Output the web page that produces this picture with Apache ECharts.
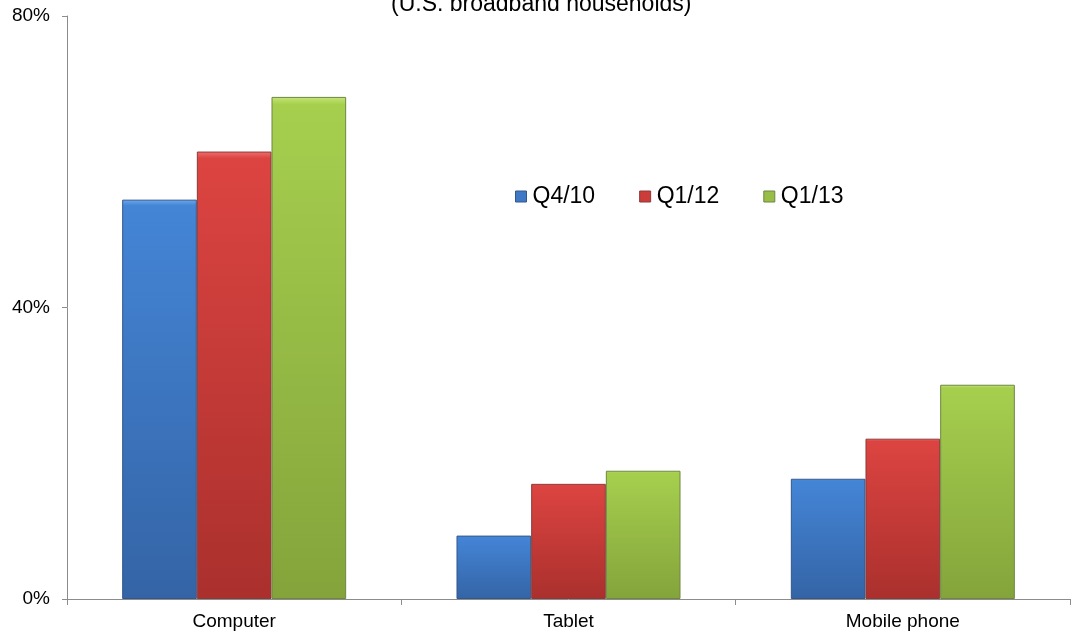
<!DOCTYPE html>
<html>
<head>
<meta charset="utf-8">
<script src="https://cdn.jsdelivr.net/npm/echarts@6/dist/echarts.min.js"></script>
<style>
html,body{margin:0;padding:0;background:#fff;}
#chart{width:1073px;height:633px;}
</style>
</head>
<body>
<div id="chart"></div>
<script>
var categories = ['Computer', 'Tablet', 'Mobile phone'];
var seriesNames = ['Q4/10', 'Q1/12', 'Q1/13'];
var q4_10 = [54.8, 8.7, 16.5];
var q1_12 = [61.4, 15.8, 22.0];
var q1_13 = [68.9, 17.6, 29.4];
var yTicks = [0, 40, 80];
var titleText = '(U.S. broadband households)';

var FONT = '"Liberation Sans", Arial, sans-serif';

function grad(top, mid, bottom) {
  return new echarts.graphic.LinearGradient(0, 0, 0, 1, [
    {offset: 0, color: top},
    {offset: 0.015, color: mid},
    {offset: 1, color: bottom}
  ]);
}
var palettes = [
  {top: '#6aa8f0', mid: '#4485d6', bottom: '#3464a6', border: '#34578a', legend: '#3f78c4'},
  {top: '#f07070', mid: '#dc4441', bottom: '#aa302d', border: '#8a3a38', legend: '#cc3c39'},
  {top: '#c4e677', mid: '#a6cf4e', bottom: '#84a43b', border: '#6e8640', legend: '#98be48'}
];
var dataSets = [q4_10, q1_12, q1_13];

var chart = echarts.init(document.getElementById('chart'), null, {renderer: 'canvas'});
var series = dataSets.map(function (d, i) {
  var p = palettes[i];
  return {
    name: seriesNames[i],
    type: 'bar',
    data: d,
    barGap: '0%',
    barCategoryGap: '33%',
    itemStyle: {
      color: grad(p.top, p.mid, p.bottom),
      borderColor: p.border,
      borderWidth: 1
    }
  };
});

chart.setOption({
  animation: false,
  backgroundColor: '#ffffff',
  title: {
    text: titleText,
    left: 386,
    top: -12,
    textStyle: {fontFamily: FONT, fontSize: 23, fontWeight: 'normal', color: '#000'}
  },
  legend: {
    data: seriesNames.map(function (n, i) {
      return {name: n, itemStyle: {color: palettes[i].legend, borderColor: palettes[i].border, borderWidth: 1}};
    }),
    left: 510,
    top: 180,
    itemWidth: 11,
    itemHeight: 11,
    itemGap: 44,
    icon: 'rect',
    textStyle: {fontFamily: FONT, fontSize: 23, color: '#000', padding: [0, 0, 0, 1]}
  },
  grid: {left: 67, right: 3, top: 16, bottom: 34, containLabel: false},
  xAxis: {
    type: 'category',
    data: categories,
    axisLine: {lineStyle: {color: '#8c8c8c', width: 1}},
    axisTick: {show: true, length: 6, lineStyle: {color: '#8c8c8c'}},
    axisLabel: {fontFamily: FONT, fontSize: 19, color: '#000', margin: 13}
  },
  yAxis: {
    type: 'value',
    min: yTicks[0],
    max: yTicks[yTicks.length - 1],
    interval: yTicks[1] - yTicks[0],
    axisLine: {show: true, lineStyle: {color: '#8c8c8c', width: 1}},
    axisTick: {show: true, length: 5, lineStyle: {color: '#8c8c8c'}},
    splitLine: {show: false},
    axisLabel: {fontFamily: FONT, fontSize: 19, color: '#000', margin: 17, formatter: '{value}%'}
  },
  series: series
});
</script>
</body>
</html>
